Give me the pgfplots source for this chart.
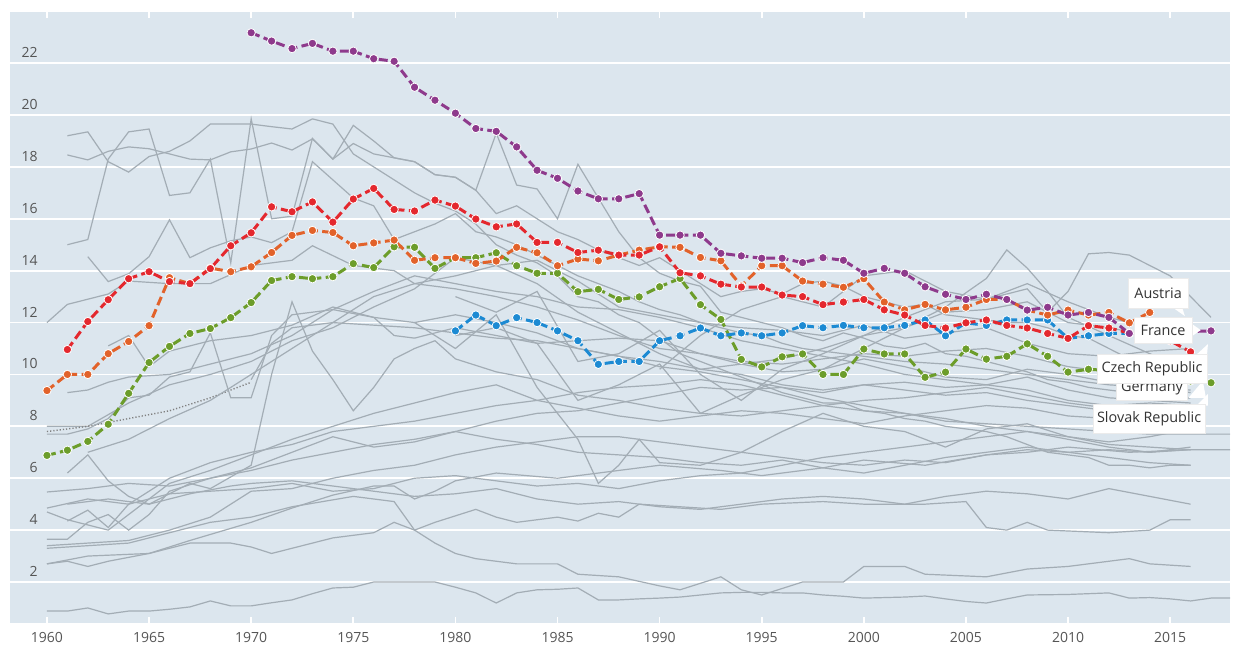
\documentclass[border=0pt]{standalone}
\usepackage{pgfplots}
\pgfplotsset{compat=1.18}
\usepackage{fontspec}
\setmainfont{Open Sans}
\definecolor{bg}{HTML}{DCE6EE}
\definecolor{gl}{HTML}{A3ADB5}
\definecolor{cpur}{HTML}{8E3A8C}
\definecolor{cred}{HTML}{E4282E}
\definecolor{corg}{HTML}{E2622A}
\definecolor{cgrn}{HTML}{6C9D2A}
\definecolor{cblu}{HTML}{1C8AD3}
\definecolor{tk}{HTML}{555555}
\definecolor{lb}{HTML}{333333}
\pgfplotsset{
  gr/.style={gl, line width=0.6pt, mark=none},
  hl/.style={#1, line width=1.5pt, dash pattern=on 4.5pt off 2.2pt, mark=*, mark size=2.1pt,
    mark options={solid, draw=white, line width=0.4pt, fill=#1}},
}
\begin{document}
\begin{tikzpicture}[x=1pt,y=1pt]
\useasboundingbox (0,0) rectangle (622,325);
\begin{axis}[at={(5pt,13.5pt)}, anchor=south west, scale only axis,
  width=610pt, height=305.5pt,
  xmin=1958.19, xmax=2017.93, ymin=0.42, ymax=23.97,
  axis background/.style={fill=bg},
  axis line style={draw=none},
  xtick={1960,1965,...,2015}, ytick={2,4,...,22},
  ymajorgrids, grid style={white, line width=0.9pt},
  tick align=inside, major tick length=3pt,
  xtick style={white, line width=0.8pt}, ytick style={draw=none},
  xticklabel style={font=\fontsize{7}{8}\selectfont, text=tk, inner sep=0pt, yshift=-4.5pt},
  yticklabel style={font=\fontsize{7}{8}\selectfont, text=tk, inner sep=0pt, anchor=south east, xshift=14pt, yshift=2.5pt},
  /pgf/number format/1000 sep={},
  /pgf/number format/assume math mode=true,
  clip=true,
]
% ---------------- grey series ----------------
\addplot[gr] coordinates {(1961,19.2)(1962,19.35)(1963,18.2)(1964,17.8)(1965,18.4)(1966,18.6)(1967,19.0)(1968,19.65)(1969,19.65)(1970,19.65)(1971,19.55)(1972,19.46)(1973,19.85)(1974,19.65)(1975,18.5)(1976,18.0)(1977,17.5)(1978,17.0)(1979,16.6)(1980,16.3)(1981,15.8)(1982,15.0)(1983,14.6)(1984,14.3)(1985,13.8)(1986,13.0)(1987,12.8)(1988,12.3)(1989,12.0)(1990,11.4)(1991,10.8)(1992,10.5)(1993,10.2)(1994,9.9)(1995,9.6)(1996,9.3)(1997,9.1)(1998,8.9)(1999,8.9)(2000,8.6)(2001,8.5)(2002,8.3)(2003,8.2)(2004,8.0)(2005,7.9)(2006,7.8)(2007,7.6)(2008,7.3)(2009,7.0)(2010,6.9)(2011,6.8)(2012,6.5)(2013,6.5)(2014,6.4)(2015,6.5)(2016,6.5)};
\addplot[gr] coordinates {(1961,18.46)(1962,18.27)(1963,18.6)(1964,18.77)(1965,18.7)(1966,18.5)(1967,18.3)(1968,18.27)(1969,18.58)(1970,18.69)(1971,18.92)(1972,18.65)(1973,19.08)(1974,18.3)(1975,18.9)(1976,18.5)(1977,18.35)(1978,18.2)(1979,17.7)(1980,17.6)(1981,17.1)(1982,16.2)(1983,16.5)(1984,16.0)(1985,15.5)(1986,15.2)(1987,14.8)(1988,14.5)(1989,14.2)(1990,14.5)(1991,14.0)(1992,13.5)(1993,13.0)(1994,13.2)(1995,13.3)(1996,13.1)(1997,13.5)(1998,13.6)(1999,13.4)(2000,13.0)(2001,12.8)(2002,12.6)(2003,12.7)(2004,12.3)(2005,12.2)(2006,12.1)(2007,12.0)(2008,12.0)(2009,11.8)(2010,11.5)(2011,11.4)(2012,11.0)(2013,10.6)(2014,10.4)(2015,10.3)(2016,10.2)};
\addplot[gr] coordinates {(1961,15.0)(1962,15.2)(1963,18.3)(1964,19.35)(1965,19.46)(1966,16.9)(1967,17.0)(1968,18.3)(1969,14.3)(1970,19.85)(1971,16.0)(1972,16.1)(1973,19.1)(1974,18.3)(1975,19.6)(1976,19.0)(1977,18.35)(1978,18.2)(1979,17.7)(1980,17.6)(1981,17.1)(1982,19.3)(1983,17.3)(1984,17.15)(1985,16.0)(1986,18.1)(1987,16.8)(1988,15.5)(1989,14.5)(1990,13.9)(1991,13.6)(1992,13.4)(1993,12.4)(1994,12.2)(1995,12.0)(1996,11.8)(1997,11.5)(1998,11.3)(1999,11.6)(2000,11.4)(2001,11.1)(2002,11.0)(2003,11.2)(2004,10.8)(2005,10.7)(2006,10.5)(2007,10.3)(2008,10.1)(2009,9.8)(2010,9.7)(2011,9.5)(2012,9.4)(2013,9.3)(2014,9.2)(2015,9.0)(2016,9.1)};
\addplot[gr] coordinates {(1962,14.54)(1963,13.58)(1964,13.88)(1965,14.54)(1966,15.96)(1967,14.5)(1968,14.88)(1969,15.15)(1970,15.3)(1971,15.08)(1972,15.5)(1973,18.2)(1974,17.5)(1975,16.8)(1976,16.5)(1977,15.2)(1978,15.5)(1979,15.8)(1980,16.2)(1981,15.5)(1982,15.3)(1983,15.0)(1984,14.6)(1985,14.2)(1986,13.8)(1987,13.5)(1988,13.2)(1989,12.8)(1990,12.5)(1991,12.3)(1992,12.0)(1993,11.8)(1994,11.6)(1995,11.5)(1996,11.2)(1997,11.0)(1998,10.9)(1999,10.8)(2000,10.7)(2002,10.5)(2004,10.4)(2006,10.2)(2008,10.0)(2010,9.8)(2012,9.6)(2014,9.5)(2016,9.4)};
\addplot[gr] coordinates {(1960,12.0)(1961,12.7)(1962,12.9)(1963,13.1)(1964,13.6)(1966,13.5)(1968,13.5)(1970,14.2)(1972,14.4)(1973,14.96)(1975,14.2)(1977,14.0)(1978,13.5)(1980,13.3)(1982,13.0)(1984,12.6)(1986,12.1)(1988,11.5)(1990,11.0)(1992,10.8)(1994,10.5)(1996,10.4)(1998,10.6)(2000,10.8)(2002,10.7)(2004,10.9)(2006,11.0)(2008,10.7)(2010,10.3)(2012,10.1)(2014,10.0)(2016,9.8)};
\addplot[gr] coordinates {(1960,8.0)(1962,8.0)(1964,8.9)(1966,9.6)(1968,10.0)(1970,10.5)(1972,11.3)(1974,11.8)(1976,12.6)(1978,13.3)(1980,14.5)(1982,14.2)(1984,14.4)(1986,13.6)(1988,12.6)(1990,12.3)(1992,12.0)(1994,11.8)(1996,11.7)(1998,11.5)(2000,11.9)(2002,11.4)(2004,11.6)(2006,11.8)(2008,11.2)(2010,10.8)(2012,10.7)(2014,10.9)(2016,11.0)};
\addplot[gr] coordinates {(1963,11.1)(1964,11.5)(1965,10.3)(1966,10.9)(1968,11.3)(1970,11.5)(1972,11.9)(1974,12.6)(1976,12.2)(1978,12.0)(1980,12.3)(1982,12.0)(1984,11.6)(1986,11.0)(1988,10.7)(1990,10.3)(1992,10.1)(1994,9.8)(1996,9.5)(1998,9.1)(2000,8.8)(2002,8.5)(2004,8.3)(2006,8.0)(2008,7.8)(2010,7.6)(2012,7.3)(2014,7.2)(2016,7.1)};
\addplot[gr, densely dotted, line width=0.7pt, gray] coordinates {(1960,7.8)(1962,8.0)(1964,8.3)(1966,8.6)(1968,9.1)(1970,9.7)};
\addplot[gr] coordinates {(1970,9.8)(1971,11.2)(1972,11.8)(1974,12.0)(1976,11.9)(1978,11.8)(1980,11.6)(1982,11.4)(1984,11.3)(1986,11.0)(1988,10.7)(1990,10.5)(1992,10.2)(1994,10.0)(1996,9.6)(1998,9.4)(2000,9.6)(2002,9.4)(2004,9.2)(2006,9.3)(2008,9.0)(2010,8.8)(2012,8.6)(2014,8.5)(2016,8.4)};
\addplot[gr] coordinates {(1960,7.7)(1961,7.7)(1962,7.9)(1963,8.3)(1964,9.1)(1965,9.2)(1966,9.9)(1967,10.1)(1968,11.6)(1969,9.1)(1970,9.1)(1971,11.5)(1972,12.3)(1974,12.5)(1976,12.2)(1977,11.5)(1978,11.4)(1980,11.8)(1982,11.5)(1984,11.2)(1986,11.3)(1988,11.4)(1990,11.3)(1992,10.8)(1994,10.4)(1996,10.1)(1998,10.2)(2000,10.6)(2002,10.3)(2004,9.9)(2006,9.8)(2008,10.2)(2010,10.0)(2012,9.7)(2014,9.5)(2016,9.3)};
\addplot[gr] coordinates {(1961,6.2)(1962,6.9)(1963,5.9)(1964,5.3)(1965,5.0)(1966,5.4)(1967,5.8)(1968,5.6)(1970,6.5)(1971,10.0)(1972,12.8)(1973,10.9)(1974,9.8)(1975,8.6)(1976,9.5)(1977,10.6)(1978,11.0)(1979,11.3)(1980,10.6)(1982,10.1)(1984,9.8)(1986,9.2)(1988,9.0)(1990,8.7)(1992,8.5)(1994,8.4)(1996,8.6)(1998,8.8)(2000,9.0)(2002,9.1)(2004,9.3)(2006,9.5)(2008,9.2)(2010,8.9)(2012,8.7)(2014,8.5)(2016,8.6)};
\addplot[gr] coordinates {(1960,5.47)(1962,5.6)(1964,5.8)(1966,5.7)(1968,6.0)(1970,6.3)(1972,6.7)(1974,7.0)(1976,7.3)(1978,7.5)(1980,7.8)(1982,8.2)(1984,8.5)(1986,8.6)(1988,8.9)(1990,9.2)(1992,9.5)(1994,9.4)(1996,9.5)(1998,9.3)(2000,9.6)(2002,9.7)(2004,9.5)(2006,9.6)(2008,9.9)(2010,9.4)(2012,9.1)(2014,9.0)(2016,8.9)};
\addplot[gr] coordinates {(1960,4.85)(1962,5.2)(1964,5.0)(1966,6.0)(1968,6.6)(1970,7.0)(1972,7.3)(1974,7.8)(1976,8.0)(1978,8.2)(1980,8.5)(1982,8.8)(1984,9.0)(1986,9.3)(1988,9.5)(1990,9.6)(1992,9.8)(1994,9.6)(1996,9.2)(1998,8.8)(2000,8.6)(2002,8.5)(2004,8.2)(2006,8.1)(2008,8.0)(2010,7.9)(2012,7.8)(2014,7.7)(2016,7.7)(2018,7.7)};
\addplot[gr] coordinates {(1960,4.7)(1961,4.4)(1963,4.0)(1964,4.6)(1966,5.8)(1968,6.3)(1970,6.9)(1972,7.5)(1974,8.0)(1976,8.5)(1978,8.9)(1980,9.3)(1982,9.6)(1984,9.0)(1986,8.7)(1988,8.4)(1990,8.2)(1992,8.4)(1994,8.6)(1996,8.5)(1998,8.3)(2000,8.1)(2002,8.4)(2004,8.6)(2006,8.8)(2008,8.7)(2010,8.4)(2012,8.3)(2014,8.1)(2016,8.0)};
\addplot[gr] coordinates {(1960,3.65)(1961,3.65)(1962,4.3)(1963,4.6)(1964,4.0)(1965,4.6)(1966,5.5)(1968,6.0)(1970,6.4)(1972,7.0)(1974,7.6)(1976,7.2)(1978,7.4)(1980,7.8)(1982,7.5)(1984,7.3)(1986,7.0)(1988,6.9)(1990,6.8)(1992,6.6)(1994,6.5)(1996,6.7)(1998,6.4)(2000,6.2)(2002,6.5)(2004,6.8)(2006,7.0)(2008,7.2)(2010,7.0)(2012,7.1)(2014,7.0)(2016,7.1)(2018,7.1)};
\addplot[gr] coordinates {(1960,3.4)(1962,3.5)(1964,3.6)(1966,4.0)(1968,4.5)(1970,5.5)(1972,5.6)(1974,6.0)(1976,6.3)(1978,6.5)(1980,6.9)(1982,7.2)(1984,7.4)(1986,7.6)(1988,7.6)(1990,7.4)(1992,7.2)(1994,7.0)(1996,6.8)(1998,6.6)(2000,6.5)(2002,6.7)(2004,6.6)(2006,6.9)(2008,7.1)(2010,7.0)(2012,6.8)(2014,6.6)(2016,6.5)};
\addplot[gr] coordinates {(1961,4.35)(1962,4.77)(1963,4.1)(1964,5.0)(1966,5.4)(1968,5.5)(1970,5.6)(1972,5.8)(1974,5.5)(1976,5.6)(1978,6.0)(1980,6.1)(1982,5.9)(1984,5.7)(1986,5.8)(1988,5.6)(1990,5.9)(1992,6.1)(1994,6.2)(1996,6.5)(1998,6.8)(2000,7.0)(2002,7.2)(2004,7.4)(2006,7.6)(2008,7.8)(2010,7.5)(2012,7.2)(2014,7.0)(2016,7.2)};
\addplot[gr] coordinates {(1961,5.0)(1963,5.2)(1965,5.0)(1967,5.4)(1969,5.7)(1970,5.8)(1972,5.9)(1974,5.7)(1976,5.5)(1978,5.3)(1980,5.4)(1982,5.6)(1984,5.2)(1986,5.0)(1988,5.1)(1990,4.9)(1992,4.8)(1994,5.0)(1996,5.2)(1998,5.3)(2000,5.2)(2002,5.0)(2004,5.3)(2006,5.5)(2008,5.4)(2010,5.2)(2012,5.6)(2014,5.3)(2016,5.0)};
\addplot[gr] coordinates {(1960,0.88)(1961,0.88)(1962,1.0)(1963,0.77)(1964,0.88)(1965,0.88)(1966,0.95)(1967,1.04)(1968,1.27)(1969,1.08)(1970,1.08)(1971,1.2)(1972,1.31)(1973,1.55)(1974,1.77)(1975,1.8)(1976,2.0)(1977,2.0)(1978,2.0)(1979,2.0)(1980,1.8)(1981,1.58)(1982,1.19)(1983,1.58)(1984,1.7)(1985,1.72)(1986,1.77)(1987,1.31)(1988,1.31)(1989,1.35)(1990,1.38)(1991,1.42)(1992,1.5)(1993,1.58)(1994,1.6)(1995,1.6)(1996,1.58)(1997,1.58)(1998,1.5)(1999,1.45)(2000,1.38)(2002,1.42)(2003,1.46)(2004,1.35)(2005,1.25)(2006,1.19)(2007,1.35)(2008,1.5)(2010,1.52)(2012,1.58)(2013,1.38)(2014,1.4)(2015,1.35)(2016,1.27)(2017,1.38)(2018,1.38)};
\addplot[gr] coordinates {(1960,3.3)(1962,3.4)(1964,3.5)(1966,3.9)(1968,4.3)(1970,4.5)(1972,4.9)(1975,5.3)(1977,5.1)(1978,4.0)(1979,3.5)(1980,3.1)(1981,2.9)(1983,2.7)(1985,2.7)(1986,2.3)(1988,2.2)(1990,1.85)(1991,1.7)(1993,2.2)(1994,1.7)(1995,1.5)(1997,2.0)(1999,2.0)(2000,2.6)(2002,2.6)(2003,2.3)(2006,2.2)(2008,2.5)(2010,2.6)(2013,2.9)(2014,2.7)(2016,2.6)};
\addplot[gr] coordinates {(1960,2.7)(1962,3.0)(1965,3.1)(1967,3.5)(1969,3.5)(1970,3.35)(1971,3.1)(1973,3.5)(1974,3.7)(1976,3.9)(1977,4.3)(1978,4.0)(1979,4.3)(1981,4.8)(1982,4.5)(1983,4.3)(1985,4.5)(1986,4.35)(1987,4.65)(1988,4.5)(1989,5.0)(1991,4.9)(1993,4.8)(1995,5.0)(1998,5.1)(2000,5.0)(2003,5.0)(2005,5.1)(2006,4.1)(2007,4.0)(2008,4.3)(2009,4.0)(2012,3.9)(2014,4.0)(2015,4.4)(2016,4.4)};
\addplot[gr] coordinates {(1960,2.7)(1961,2.8)(1962,2.6)(1963,2.8)(1965,3.1)(1967,3.6)(1970,4.3)(1972,4.85)(1974,5.35)(1976,5.7)(1977,5.7)(1978,5.2)(1979,5.5)(1980,5.9)(1982,6.2)(1985,6.0)(1988,6.3)(1990,6.5)(1993,6.3)(1995,6.1)(1998,6.4)(2000,6.7)(2003,6.5)(2006,6.9)(2008,7.0)(2010,7.2)(2013,7.0)(2016,7.1)};
\addplot[gr] coordinates {(1980,11.5)(1982,11.8)(1984,11.2)(1986,9.0)(1988,9.6)(1990,10.4)(1992,8.5)(1994,9.2)(1996,9.8)(1998,10.2)(2000,11.0)(2002,11.8)(2004,12.6)(2006,13.7)(2007,14.8)(2008,14.1)(2009,13.2)(2010,12.2)(2012,11.5)(2014,10.8)(2016,10.2)};
\addplot[gr] coordinates {(1980,13.0)(1982,12.4)(1984,13.2)(1986,10.5)(1988,10.8)(1990,11.7)(1992,10.0)(1994,9.0)(1996,10.2)(1998,10.8)(2000,11.5)(2002,12.2)(2004,12.8)(2006,12.9)(2008,13.3)(2009,12.4)(2010,13.2)(2011,14.65)(2012,14.7)(2013,14.6)(2014,14.2)(2015,13.8)(2016,13.0)(2017,12.2)};
\addplot[gr] coordinates {(1961,9.3)(1962,9.4)(1963,9.7)(1964,9.9)(1966,10.0)(1968,10.4)(1970,10.8)(1972,11.5)(1974,12.5)(1976,13.2)(1978,13.8)(1980,13.5)(1982,13.2)(1984,13.0)(1986,12.6)(1988,12.5)(1990,12.2)(1992,11.8)(1994,11.3)(1996,11.0)(1998,10.7)(2000,10.4)(2002,10.0)(2004,9.8)(2006,9.6)(2008,9.4)(2010,9.0)(2012,8.8)(2014,8.9)(2016,8.8)};
\addplot[gr] coordinates {(1962,7.0)(1964,7.5)(1966,8.3)(1968,9.0)(1970,10.0)(1972,11.0)(1974,12.0)(1976,13.0)(1978,13.5)(1980,13.8)(1982,14.2)(1984,13.5)(1986,12.4)(1988,11.6)(1990,10.8)(1992,10.2)(1994,10.4)(1996,10.6)(1998,11.0)(2000,11.5)(2002,11.8)(2004,12.4)(2006,12.5)(2008,12.8)(2010,12.0)(2012,11.8)(2014,11.5)(2016,11.3)};
\addplot[gr] coordinates {(1990,10.2)(1992,11.5)(1994,12.5)(1996,13.0)(1998,12.6)(2000,13.8)(2002,14.0)(2004,13.2)(2006,12.9)(2008,13.5)(2010,12.8)(2012,12.2)(2014,11.8)(2016,11.3)};
\addplot[gr] coordinates {(1978,12.0)(1980,11.0)(1982,12.3)(1984,9.5)(1986,7.5)(1987,5.8)(1988,6.5)(1989,7.5)(1990,6.6)(1992,6.5)(1994,7.0)(1996,7.8)(1998,8.5)(2000,8.0)(2002,7.8)(2004,7.2)(2006,7.9)(2008,8.1)(2010,7.6)(2012,7.4)(2014,7.6)(2016,7.9)};
% ---------------- highlighted series ----------------
\addplot[hl=cgrn] coordinates {(1960,6.88)(1961,7.08)(1962,7.42)(1963,8.08)(1964,9.27)(1965,10.46)(1966,11.08)(1967,11.58)(1968,11.77)(1969,12.19)(1970,12.77)(1971,13.62)(1972,13.77)(1973,13.69)(1974,13.77)(1975,14.27)(1976,14.12)(1977,14.92)(1978,14.9)(1979,14.09)(1980,14.5)(1981,14.5)(1982,14.69)(1983,14.19)(1984,13.9)(1985,13.9)(1986,13.19)(1987,13.28)(1988,12.89)(1989,12.99)(1990,13.38)(1991,13.7)(1992,12.69)(1993,12.12)(1994,10.58)(1995,10.29)(1996,10.68)(1997,10.79)(1998,10.0)(1999,10.0)(2000,10.98)(2001,10.79)(2002,10.79)(2003,9.89)(2004,10.09)(2005,10.98)(2006,10.59)(2007,10.7)(2008,11.18)(2009,10.7)(2010,10.09)(2011,10.2)(2012,10.15)(2013,10.0)(2014,9.9)(2015,9.8)(2016,9.75)(2017,9.68)};
\addplot[hl=cblu] coordinates {(1980,11.68)(1981,12.29)(1982,11.88)(1983,12.19)(1984,12.0)(1985,11.68)(1986,11.3)(1987,10.39)(1988,10.5)(1989,10.5)(1990,11.3)(1991,11.49)(1992,11.79)(1993,11.49)(1994,11.6)(1995,11.49)(1996,11.6)(1997,11.88)(1998,11.8)(1999,11.89)(2000,11.8)(2001,11.8)(2002,11.89)(2003,12.1)(2004,11.49)(2005,11.99)(2006,11.89)(2007,12.1)(2008,12.1)(2009,12.1)(2010,11.39)(2011,11.49)(2012,11.58)(2013,11.58)(2014,11.6)(2015,11.6)};
\addplot[hl=corg] coordinates {(1960,9.38)(1961,10.0)(1962,10.0)(1963,10.8)(1964,11.27)(1965,11.88)(1966,13.73)(1967,13.5)(1968,14.1)(1969,13.96)(1970,14.15)(1971,14.7)(1972,15.36)(1973,15.55)(1974,15.47)(1975,14.96)(1976,15.07)(1977,15.18)(1978,14.4)(1979,14.5)(1980,14.5)(1981,14.28)(1982,14.37)(1983,14.9)(1984,14.69)(1985,14.19)(1986,14.45)(1987,14.38)(1988,14.6)(1989,14.79)(1990,14.92)(1991,14.9)(1992,14.51)(1993,14.38)(1994,13.41)(1995,14.19)(1996,14.19)(1997,13.6)(1998,13.48)(1999,13.36)(2000,13.69)(2001,12.79)(2002,12.49)(2003,12.7)(2004,12.49)(2005,12.59)(2006,12.89)(2007,12.89)(2008,12.48)(2009,12.29)(2010,12.48)(2011,12.29)(2012,12.39)(2013,11.99)(2014,12.39)};
\addplot[hl=cred] coordinates {(1961,10.96)(1962,12.04)(1963,12.88)(1964,13.69)(1965,13.96)(1966,13.58)(1967,13.5)(1968,14.08)(1969,14.96)(1970,15.46)(1971,16.46)(1972,16.27)(1973,16.65)(1974,15.87)(1975,16.76)(1976,17.17)(1977,16.36)(1978,16.3)(1979,16.72)(1980,16.49)(1981,15.99)(1982,15.69)(1983,15.8)(1984,15.09)(1985,15.09)(1986,14.7)(1987,14.79)(1988,14.6)(1989,14.6)(1990,14.92)(1991,13.92)(1992,13.8)(1993,13.48)(1994,13.37)(1995,13.37)(1996,13.06)(1997,13.0)(1998,12.69)(1999,12.79)(2000,12.89)(2001,12.49)(2002,12.29)(2003,11.89)(2004,11.79)(2005,11.99)(2006,12.1)(2007,11.89)(2008,11.79)(2009,11.58)(2010,11.39)(2011,11.88)(2012,11.79)(2013,11.6)(2014,11.5)(2015,11.3)(2016,10.87)};
\addplot[hl=cpur] coordinates {(1970,23.17)(1971,22.85)(1972,22.56)(1973,22.76)(1974,22.46)(1975,22.46)(1976,22.17)(1977,22.07)(1978,21.07)(1979,20.57)(1980,20.07)(1981,19.48)(1982,19.37)(1983,18.77)(1984,17.87)(1985,17.56)(1986,17.07)(1987,16.77)(1988,16.77)(1989,16.97)(1990,15.37)(1991,15.37)(1992,15.37)(1993,14.67)(1994,14.57)(1995,14.48)(1996,14.48)(1997,14.31)(1998,14.5)(1999,14.4)(2000,13.9)(2001,14.09)(2002,13.9)(2003,13.38)(2004,13.09)(2005,12.89)(2006,13.09)(2007,12.89)(2008,12.48)(2009,12.59)(2010,12.29)(2011,12.39)(2012,12.2)(2013,11.58)(2017,11.68)};
% ---------------- anchor points for labels ----------------
\coordinate (aus) at (axis cs:2014.41,13.14);
\coordinate (ausA) at (axis cs:2015.09,12.6);
\coordinate (ausB) at (axis cs:2015.58,12.6);
\coordinate (ausT) at (axis cs:2015.72,12.25);
\coordinate (fra) at (axis cs:2014.65,11.71);
\coordinate (fraA) at (axis cs:2016.0,11.98);
\coordinate (fraT) at (axis cs:2016.5,11.71);
\coordinate (fraB) at (axis cs:2016.0,11.44);
\coordinate (ger) at (axis cs:2014.11,9.48);
\coordinate (gerA) at (axis cs:2015.9,9.1);
\coordinate (gerB) at (axis cs:2016.75,9.1);
\coordinate (gerT) at (axis cs:2016.6,9.75);
\coordinate (cze) at (axis cs:2014.11,10.21);
\coordinate (czeA) at (axis cs:2016.2,10.7);
\coordinate (czeB) at (axis cs:2016.8,10.7);
\coordinate (czeT) at (axis cs:2016.85,11.17);
\coordinate (svk) at (axis cs:2013.97,8.28);
\coordinate (svkA) at (axis cs:2016.3,8.8);
\coordinate (svkB) at (axis cs:2016.85,8.8);
\coordinate (svkT) at (axis cs:2016.85,9.25);
\end{axis}
% ---------------- labels (drawn on top) ----------------
\tikzset{lab/.style={fill=white, draw=black!8, inner sep=0pt, text=lb, font=\fontsize{7.2}{8}\selectfont}}
\fill[white] (ausA) -- (ausB) -- (ausT) -- cycle;
\node[lab, minimum width=30pt, minimum height=15pt] at (aus) {Austria};
\fill[white] (fraA) -- (fraT) -- (fraB) -- cycle;
\node[lab, minimum width=29pt, minimum height=13pt] at (fra) {France};
\fill[white] (gerA) -- (gerB) -- (gerT) -- cycle;
\node[lab, minimum width=35.5pt, minimum height=12pt] at (ger) {Germany};
\fill[white] (czeA) -- (czeB) -- (czeT) -- cycle;
\node[lab, minimum width=55pt, minimum height=14.5pt] at (cze) {Czech Republic};
\fill[white] (svkA) -- (svkB) -- (svkT) -- cycle;
\node[lab, minimum width=56pt, minimum height=14.5pt] at (svk) {Slovak Republic};
\end{tikzpicture}
\end{document}
